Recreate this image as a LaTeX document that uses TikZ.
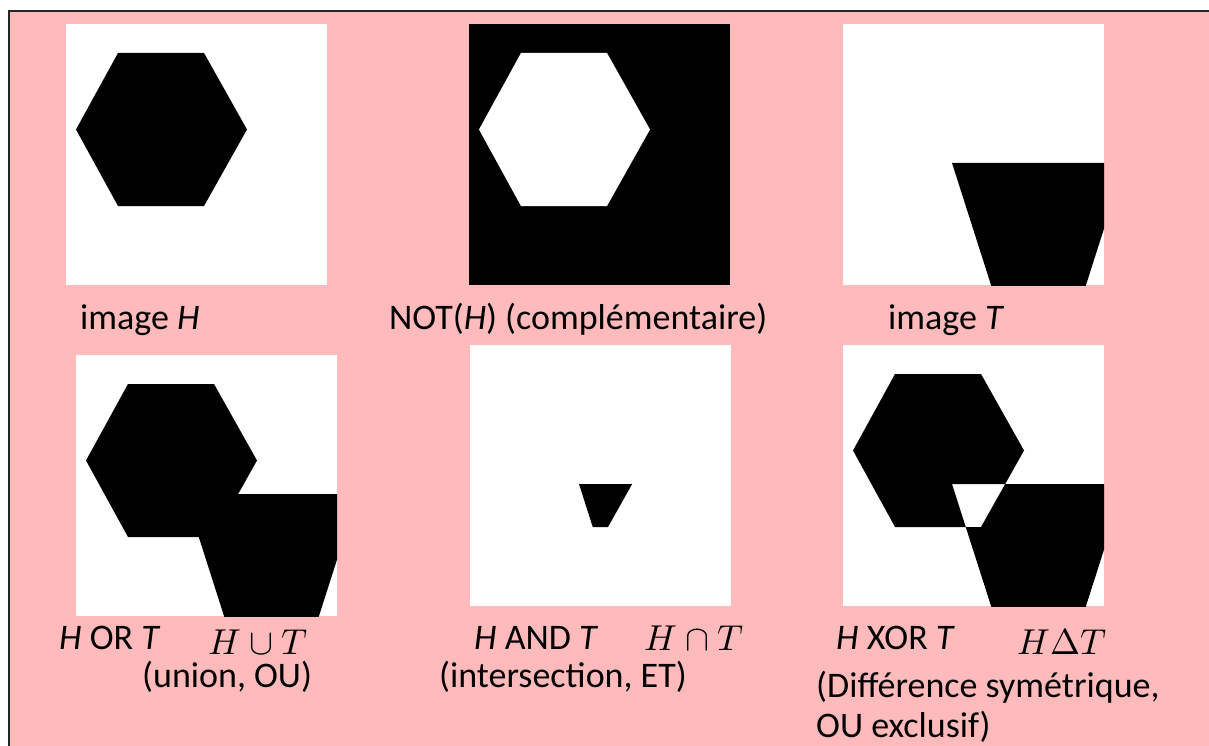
\documentclass[tikz,border=0pt]{standalone}
\usepackage{graphicx}
\usepackage{fontspec}
\setmainfont{Carlito}
\definecolor{bgpink}{RGB}{255,187,187}
\begin{document}
\begin{tikzpicture}[x=1pt,y=-1pt,
  lbl/.style={anchor=base west,inner sep=0pt,font=\fontsize{36}{40}\selectfont},
  mlbl/.style={anchor=base west,inner sep=0pt},
  hexp/.style={insert path={(52,29) -- (138,29) -- (181,105.5) -- (138,182) -- (52,182) -- (10,105.5) -- cycle}},
  trap/.style={insert path={(109,139) -- (282,139) -- (230.5,300) -- (160.5,300) -- cycle}},
  panelbox/.style={insert path={(0,0) rectangle (261,261)}}]
\useasboundingbox (0,0) rectangle (1209,746);
\clip (0,0) rectangle (1209,746);
\fill[bgpink] (9,11) rectangle (1230,760);
\draw[line width=1.2pt,black!85] (1230,11) -- (9,11) -- (9,760);
% panel 1: image H
\begin{scope}[shift={(66,24)}]
  \fill[white,panelbox];
  \fill[black,hexp];
\end{scope}
% panel 2: NOT H
\begin{scope}[shift={(469,24)}]
  \fill[black,panelbox];
  \fill[white,hexp];
\end{scope}
% panel 3: image T
\begin{scope}[shift={(843,24)}]
  \clip[panelbox];
  \fill[white,panelbox];
  \fill[black,trap];
\end{scope}
% panel 4: H OR T
\begin{scope}[shift={(76,355)}]
  \clip[panelbox];
  \fill[white,panelbox];
  \fill[black,hexp];
  \fill[black,trap];
\end{scope}
% panel 5: H AND T
\begin{scope}[shift={(470,345)}]
  \fill[white,panelbox];
  \begin{scope}
    \clip[hexp];
    \fill[black,trap];
  \end{scope}
\end{scope}
% panel 6: H XOR T
\begin{scope}[shift={(843,345)}]
  \clip[panelbox];
  \fill[white,panelbox];
  \fill[black,even odd rule,hexp,trap];
\end{scope}
% labels
\node[lbl] (t1) at (80,329) {image \textit{H}};
\node[lbl] (t2) at (389,329) {NOT(\textit{H}) (complémentaire)};
\node[lbl] (t3) at (888,329) {image \textit{T}};
\node[lbl] (t4) at (59,649) {\textit{H} OR \textit{T}};
\node[mlbl] (m4) at (208,654) {\scalebox{3.6}{$H\cup T$}};
\node[lbl] (u4) at (142,687) {(union, OU)};
\node[lbl] (t5) at (474,649) {\textit{H} AND \textit{T}};
\node[mlbl] (m5) at (644,650) {\scalebox{3.6}{$H\cap T$}};
\node[lbl] (u5) at (439,687) {(intersection, ET)};
\node[lbl] (t6) at (836,649) {\textit{H} XOR \textit{T}};
\node[mlbl] (m6) at (1017,654) {\scalebox{3.6}{$H\Delta T$}};
\node[lbl] (u6) at (816,697) {(Différence symétrique,};
\node[lbl] (v6) at (816,737) {OU exclusif)};
\end{tikzpicture}
\end{document}
